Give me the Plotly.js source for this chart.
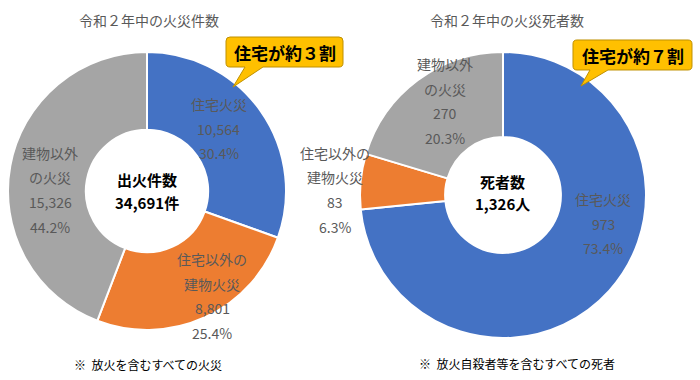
<!DOCTYPE html>
<html><head><meta charset="utf-8">
<script src="https://cdn.plot.ly/plotly-3.0.1.min.js"></script>
<style>html,body{margin:0;padding:0;background:#fff}#chart{width:700px;height:380px}</style>
</head><body><div id="chart"></div>
<script>
// ---- data ----
const categories = ['住宅火災', '住宅以外の\n建物火災', '建物以外\nの火災'];
const fireCounts = [10564, 8801, 15326];
const firePercents = [30.4, 25.4, 44.2];
const deathCounts = [973, 83, 270];
const deathPercents = [73.4, 6.3, 20.3];
const chartTitles = ['令和２年中の火災件数', '令和２年中の火災死者数'];
const centerLabels = ['出火件数', '死者数'];
const totalLabels = ['34,691件', '1,326人'];
const calloutTexts = ['住宅が約３割', '住宅が約７割'];
const footnotes = ['※  放火を含むすべての火災', '※  放火自殺者等を含むすべての死者'];

// ---- styling / layout helpers ----
const W = 700, H = 380;
const px = x => x / W;
const py = y => 1 - y / H;
const colors = ['#4472C4', '#ED7D31', '#A5A5A5'];
const FONT = '"Noto Sans CJK JP", "Noto Sans", sans-serif';
const labelColor = '#595959';

const pies = [
  {values: fireCounts, pcts: firePercents, box: [8, 52, 286, 330], hole: 0.44,
   labelPos: [[219, 104], [212, 259], [50, 153]], center: [147, 180, 202.5], title: [149, 20],
   callout: {box: [226, 37, 343, 67], w: [245, 263], tip: [233, 87]}, foot: [148, 364]},
  {values: deathCounts, pcts: deathPercents, box: [360, 52, 646, 338], hole: 0.405,
   labelPos: [[603, 199], [335, 153], [445, 64]], center: [503, 181, 203.5], title: [507, 20],
   callout: {box: [573, 40, 692, 70], w: [590, 608], tip: [581, 86]}, foot: [517, 363]}
];

const data = [];
const annotations = [];
const shapes = [];
const lineGap = 24.5;

function callout(c) {
  const [x0, y0, x1, y1] = c.box, r = 4;
  const P = (x, y) => px(x).toFixed(5) + ',' + py(y).toFixed(5);
  return 'M' + P(x0 + r, y0) + ' L' + P(x1 - r, y0) + ' Q' + P(x1, y0) + ' ' + P(x1, y0 + r) +
    ' L' + P(x1, y1 - r) + ' Q' + P(x1, y1) + ' ' + P(x1 - r, y1) +
    ' L' + P(c.w[1], y1) + ' L' + P(c.tip[0], c.tip[1]) + ' L' + P(c.w[0], y1) +
    ' L' + P(x0 + r, y1) + ' Q' + P(x0, y1) + ' ' + P(x0, y1 - r) +
    ' L' + P(x0, y0 + r) + ' Q' + P(x0, y0) + ' ' + P(x0 + r, y0) + ' Z';
}

function ann(text, x, y, size, color, bold) {
  annotations.push({text: bold ? '<b>' + text + '</b>' : text, xref: 'paper', yref: 'paper',
    x: px(x), y: py(y), xanchor: 'center', yanchor: 'middle', showarrow: false,
    font: {family: FONT, size: size, color: color}});
}

pies.forEach((p, i) => {
  const [bx0, by0, bx1, by1] = p.box;
  data.push({
    type: 'pie', values: p.values, labels: categories.map(c => c.replace('\n', '')),
    sort: false, direction: 'clockwise', rotation: 0, hole: p.hole,
    marker: {colors: colors, line: {color: '#ffffff', width: 2}},
    textinfo: 'none', hoverinfo: 'none', showlegend: false,
    domain: {x: [px(bx0), px(bx1)], y: [py(by1), py(by0)]}
  });
  // slice labels
  p.values.forEach((v, k) => {
    const lines = categories[k].split('\n').concat([v.toLocaleString('en-US'), p.pcts[k].toFixed(1) + '%']);
    lines.forEach((t, j) => ann(t, p.labelPos[k][0], p.labelPos[k][1] + j * lineGap, 14, labelColor, false));
  });
  // center
  ann(centerLabels[i], p.center[0], p.center[1], 15, '#000000', true);
  ann(totalLabels[i], p.center[0], p.center[2], 15, '#000000', true);
  // title
  ann(chartTitles[i], p.title[0], p.title[1], 14, labelColor, false);
  // footnote
  ann(footnotes[i], p.foot[0], p.foot[1], 12, '#000000', false);
  // callout
  shapes.push({type: 'path', xref: 'paper', yref: 'paper', path: callout(p.callout),
    fillcolor: '#FFC000', line: {color: '#BF9000', width: 1}, layer: 'above'});
  const cb = p.callout.box;
  ann(calloutTexts[i], (cb[0] + cb[2]) / 2, (cb[1] + cb[3]) / 2 + 0.5, 17, '#000000', true);
});

const layout = {
  width: W, height: H, margin: {l: 0, r: 0, t: 0, b: 0},
  paper_bgcolor: '#ffffff', plot_bgcolor: '#ffffff',
  annotations: annotations, shapes: shapes, showlegend: false,
  font: {family: FONT}
};
Plotly.newPlot('chart', data, layout, {displayModeBar: false, staticPlot: true});
</script></body></html>
